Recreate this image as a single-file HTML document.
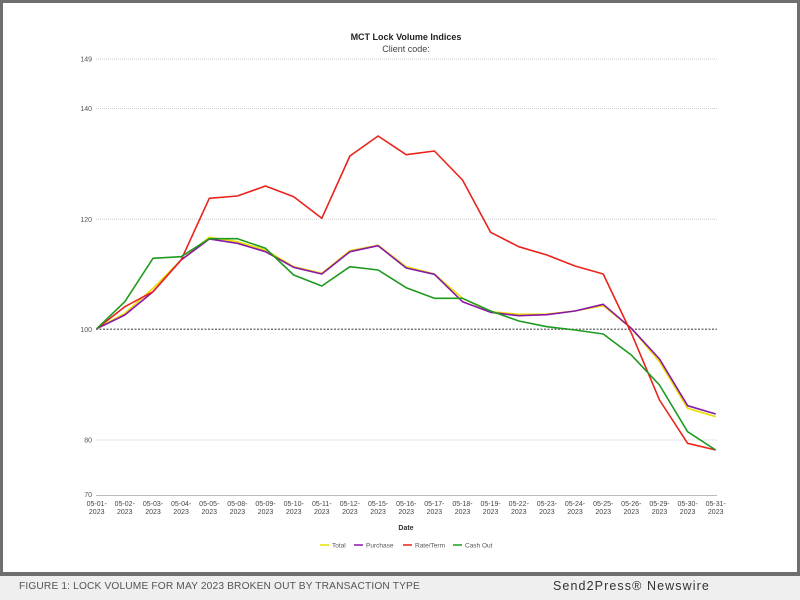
<!DOCTYPE html>
<html><head><meta charset="utf-8"><style>
html,body{margin:0;padding:0;background:#efefef;}
body{width:800px;height:600px;position:relative;overflow:hidden;font-family:"Liberation Sans",Arial,sans-serif;}
.frame{position:absolute;left:0;top:0;width:794px;height:569px;border:3px solid #6f6f6f;border-bottom-width:4px;background:#fff;}
.cap{position:absolute;left:19px;top:581px;font-size:10.2px;color:#555;letter-spacing:0.15px;white-space:nowrap;}
.brand{position:absolute;left:553px;top:579px;font-size:12.5px;color:#333;letter-spacing:1.1px;white-space:nowrap;}
</style></head><body>
<div class="frame"></div>
<svg style="position:absolute;left:0;top:0" width="800" height="575" font-family="Liberation Sans, Arial, sans-serif">
<text x="406" y="40" font-size="9" font-weight="bold" text-anchor="middle" fill="#222">MCT Lock Volume Indices</text>
<text x="406" y="52" font-size="9" text-anchor="middle" fill="#444">Client code:</text>
<g stroke="#ccc" stroke-width="1" stroke-dasharray="1,1">
<line x1="96" y1="59" x2="717" y2="59"/><line x1="96" y1="108.5" x2="717" y2="108.5"/><line x1="96" y1="219.3" x2="717" y2="219.3"/><line x1="96" y1="440" x2="717" y2="440"/>
</g>
<line x1="96" y1="329.3" x2="717" y2="329.3" stroke="#777" stroke-width="1.5" stroke-dasharray="2,1.5"/>
<line x1="96" y1="495.5" x2="717" y2="495.5" stroke="#bbb" stroke-width="1"/>
<g font-size="7" fill="#555" text-anchor="end">
<text x="92" y="61.5">149</text><text x="92" y="111">140</text><text x="92" y="222">120</text><text x="92" y="332">100</text><text x="92" y="442.5">80</text><text x="92" y="497">70</text>
</g>
<g fill="none" stroke-width="1.6" stroke-linejoin="round">
<polyline stroke="#e8e000" points="96.7,328.7 124.8,313.3 153,288.3 181.1,260 209.3,237.3 237.4,241.7 265.5,250 293.7,266.7 321.8,273.3 349.9,250.7 378.1,245.3 406.2,266.7 434.4,274 462.5,298.3 490.6,311.7 518.8,314.3 546.9,314 575,311 603.2,305.7 631.3,328.3 659.5,361.7 687.6,408.3 715.7,416.7"/>
<polyline stroke="#8a16a8" points="96.7,328.7 124.8,315 153,291.7 181.1,260 209.3,239 237.4,243.3 265.5,251.7 293.7,267.3 321.8,274 349.9,251.7 378.1,245.7 406.2,268 434.4,274.3 462.5,301.7 490.6,312.3 518.8,315.7 546.9,314.7 575,311 603.2,304.3 631.3,328.3 659.5,359 687.6,405.7 715.7,414"/>
<polyline stroke="#e8241c" points="96.7,328.7 124.8,306.7 153,291.7 181.1,260 209.3,198.3 237.4,196 265.5,186 293.7,196.7 321.8,218.3 349.9,156 378.1,136 406.2,154.7 434.4,151 462.5,180 490.6,232.3 518.8,246.7 546.9,255 575,266 603.2,274 631.3,333 659.5,400 687.6,443.3 715.7,450"/>
<polyline stroke="#1e9a1e" points="96.7,328.7 124.8,301.7 153,258.3 181.1,256.7 209.3,238.7 237.4,238.7 265.5,248.3 293.7,275 321.8,286 349.9,266.7 378.1,270 406.2,287.7 434.4,298.3 462.5,298.3 490.6,311 518.8,321 546.9,326.7 575,330 603.2,334 631.3,355 659.5,385 687.6,431.7 715.7,450"/>
</g>
<g font-size="7" fill="#444" text-anchor="middle">
<text x="96.7" y="506">05-01-</text><text x="96.7" y="514">2023</text>
<text x="124.8" y="506">05-02-</text><text x="124.8" y="514">2023</text>
<text x="153" y="506">05-03-</text><text x="153" y="514">2023</text>
<text x="181.1" y="506">05-04-</text><text x="181.1" y="514">2023</text>
<text x="209.3" y="506">05-05-</text><text x="209.3" y="514">2023</text>
<text x="237.4" y="506">05-08-</text><text x="237.4" y="514">2023</text>
<text x="265.5" y="506">05-09-</text><text x="265.5" y="514">2023</text>
<text x="293.7" y="506">05-10-</text><text x="293.7" y="514">2023</text>
<text x="321.8" y="506">05-11-</text><text x="321.8" y="514">2023</text>
<text x="349.9" y="506">05-12-</text><text x="349.9" y="514">2023</text>
<text x="378.1" y="506">05-15-</text><text x="378.1" y="514">2023</text>
<text x="406.2" y="506">05-16-</text><text x="406.2" y="514">2023</text>
<text x="434.4" y="506">05-17-</text><text x="434.4" y="514">2023</text>
<text x="462.5" y="506">05-18-</text><text x="462.5" y="514">2023</text>
<text x="490.6" y="506">05-19-</text><text x="490.6" y="514">2023</text>
<text x="518.8" y="506">05-22-</text><text x="518.8" y="514">2023</text>
<text x="546.9" y="506">05-23-</text><text x="546.9" y="514">2023</text>
<text x="575" y="506">05-24-</text><text x="575" y="514">2023</text>
<text x="603.2" y="506">05-25-</text><text x="603.2" y="514">2023</text>
<text x="631.3" y="506">05-26-</text><text x="631.3" y="514">2023</text>
<text x="659.5" y="506">05-29-</text><text x="659.5" y="514">2023</text>
<text x="687.6" y="506">05-30-</text><text x="687.6" y="514">2023</text>
<text x="715.7" y="506">05-31-</text><text x="715.7" y="514">2023</text>
</g>
<text x="406" y="530" font-size="7" font-weight="bold" text-anchor="middle" fill="#333">Date</text>
<g font-size="6.5" fill="#555" stroke-width="1.5">
<line x1="320" y1="545" x2="329" y2="545" stroke="#e8e000"/><text x="332" y="547.5">Total</text>
<line x1="354" y1="545" x2="363" y2="545" stroke="#8a16a8"/><text x="366" y="547.5">Purchase</text>
<line x1="403" y1="545" x2="412" y2="545" stroke="#e8241c"/><text x="415" y="547.5">Rate/Term</text>
<line x1="453" y1="545" x2="462" y2="545" stroke="#1e9a1e"/><text x="465" y="547.5">Cash Out</text>
</g>
</svg>
<div class="cap">FIGURE 1: LOCK VOLUME FOR MAY 2023 BROKEN OUT BY TRANSACTION TYPE</div>
<div class="brand">Send2Press® Newswire</div>
</body></html>
